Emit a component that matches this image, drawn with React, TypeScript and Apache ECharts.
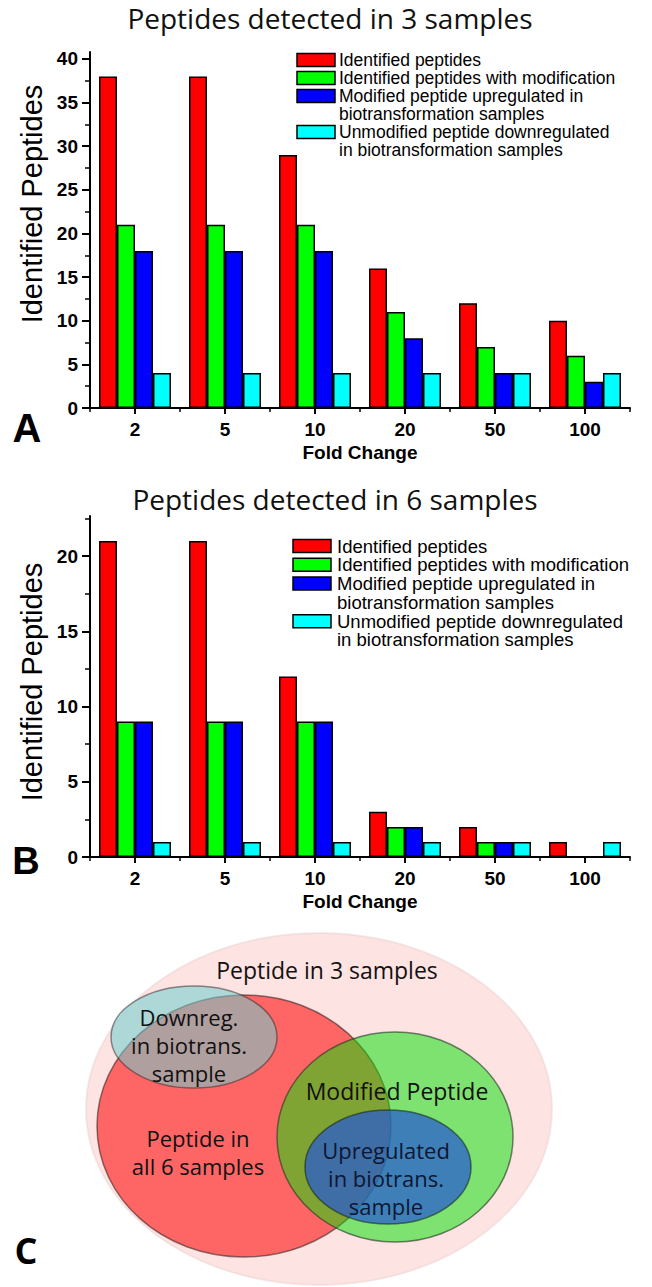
import React, { useEffect, useRef } from "react";
import * as echarts from "echarts";

// ---------- data ----------
const foldChanges = ["2", "5", "10", "20", "50", "100"];
const seriesNames = [
  "Identified peptides",
  "Identified peptides with modification",
  "Modified peptide upregulated in biotransformation samples",
  "Unmodified peptide downregulated in biotransformation samples",
];
const legendLines = [
  ["Identified peptides"],
  ["Identified peptides with modification"],
  ["Modified peptide upregulated in", "biotransformation samples"],
  ["Unmodified peptide downregulated", "in biotransformation samples"],
];
// Panel A: peptides detected in 3 samples
const identifiedA = [38, 38, 29, 16, 12, 10];
const modifiedA = [21, 21, 21, 11, 7, 6];
const upregulatedA = [18, 18, 18, 8, 4, 3];
const downregulatedA = [4, 4, 4, 4, 4, 4];
// Panel B: peptides detected in 6 samples
const identifiedB = [21, 21, 12, 3, 2, 1];
const modifiedB = [9, 9, 9, 2, 1, 0];
const upregulatedB = [9, 9, 9, 2, 1, 0];
const downregulatedB = [1, 1, 1, 1, 1, 1];
// tick labels
const yTicksA = [0, 5, 10, 15, 20, 25, 30, 35, 40];
const yMinorA = [2.5, 7.5, 12.5, 17.5, 22.5, 27.5, 32.5, 37.5];
const yTicksB = [0, 5, 10, 15, 20];
const yMinorB = [2.5, 7.5, 12.5, 17.5, 22.5];
const boundaryTicks = [0, 1, 2, 3, 4, 5, 6];

const barColors = ["#ff0000", "#00ff00", "#0000ff", "#00ffff"];

export default function App() {
  const ref = useRef<HTMLDivElement>(null);

  useEffect(() => {
    document.body.style.margin = "0";
    document.body.style.overflow = "hidden";
    const chart = echarts.init(ref.current as HTMLDivElement, null, { renderer: "svg" });

    const tickLabelStyle = {
      fontFamily: "Liberation Sans",
      fontWeight: "bold",
      fontSize: 19,
      color: "#000",
    };

    const buildLegend = (swX: number, txX: number, y0: number, step: number, fs: number) => {
      const els: any[] = [];
      let row = 0;
      legendLines.forEach((lines, i) => {
        const cy = y0 + row * step;
        els.push({
          type: "rect",
          z: 20,
          shape: { x: swX, y: cy - 6.5, width: 38, height: 13 },
          style: { fill: barColors[i], stroke: "#000", lineWidth: 1.5 },
        });
        els.push({
          type: "text",
          z: 20,
          x: txX,
          y: cy - step / 2,
          style: {
            text: lines.join("\n"),
            font: `${fs}px "Liberation Sans"`,
            lineHeight: step,
            fill: "#000",
            textAlign: "left",
            textVerticalAlign: "top",
          },
        });
        row += lines.length;
      });
      return els;
    };

    const txt = (
      text: string,
      x: number,
      y: number,
      font: string,
      fill = "#111",
      rotation = 0,
      lineHeight?: number
    ) => ({
      type: "text",
      z: 30,
      x,
      y,
      rotation,
      style: {
        text,
        font,
        fill,
        textAlign: "center",
        textVerticalAlign: "middle",
        ...(lineHeight ? { lineHeight } : {}),
      },
    });

    const vennFont = '23px "Open Sans"';
    const vennFontS = '22px "Open Sans"';

    const graphic: any[] = [
      // titles
      txt("Peptides detected in 3 samples", 330, 18, '28px "Open Sans"'),
      txt("Peptides detected in 6 samples", 335, 499, '28px "Open Sans"'),
      // y-axis names
      txt("Identified Peptides", 32, 204, '29px "Liberation Sans"', "#000", Math.PI / 2),
      txt("Identified Peptides", 32, 682, '29px "Liberation Sans"', "#000", Math.PI / 2),
      // panel letters
      txt("A", 27, 428, 'bold 40px "Liberation Sans"', "#000"),
      txt("B", 26, 861, 'bold 38px "Liberation Sans"', "#000"),
      txt("C", 26, 1250, 'bold 36px "Open Sans"', "#000"),
      // legends
      ...buildLegend(297, 339, 60, 18, 17.5),
      ...buildLegend(293, 337, 546, 18.8, 18.5),
      // Venn diagram
      {
        type: "ellipse",
        z: 1,
        shape: { cx: 319, cy: 1109, rx: 233, ry: 176 },
        style: { fill: "#fde3e2", stroke: "rgba(225,200,200,0.35)", lineWidth: 2 },
      },
      {
        type: "ellipse",
        z: 2,
        shape: { cx: 244, cy: 1126, rx: 147, ry: 131 },
        style: { fill: "rgba(255,0,0,0.55)", stroke: "rgba(60,40,40,0.6)", lineWidth: 1.5 },
      },
      {
        type: "ellipse",
        z: 3,
        shape: { cx: 194, cy: 1037, rx: 83, ry: 51 },
        style: { fill: "rgba(110,205,205,0.55)", stroke: "rgba(60,50,50,0.55)", lineWidth: 1.5 },
      },
      {
        type: "ellipse",
        z: 4,
        shape: { cx: 395, cy: 1137, rx: 118, ry: 105 },
        style: { fill: "rgba(0,225,0,0.5)", stroke: "rgba(40,50,40,0.6)", lineWidth: 1.5 },
      },
      {
        type: "ellipse",
        z: 5,
        shape: { cx: 388, cy: 1167, rx: 83, ry: 57 },
        style: { fill: "rgba(35,85,215,0.7)", stroke: "rgba(20,40,30,0.6)", lineWidth: 1.5 },
      },
      txt("Peptide in 3 samples", 327, 970, vennFont),
      txt("Downreg.\nin biotrans.\nsample", 189, 1045, vennFontS, "#111", 0, 28),
      txt("Modified Peptide", 397, 1091, vennFont),
      txt("Peptide in\nall 6 samples", 198, 1152, vennFontS, "#111", 0, 28),
      txt("Upregulated\nin biotrans.\nsample", 386, 1178, vennFontS, "#0d1733", 0, 28),
    ];

    const catAxis = (gridIndex: number) => ({
      type: "category",
      gridIndex,
      data: foldChanges,
      position: "bottom",
      boundaryGap: true,
      axisLine: { show: true, lineStyle: { color: "#000", width: 2 } },
      axisTick: { show: true, alignWithLabel: true, length: 6, lineStyle: { color: "#000", width: 2 } },
      axisLabel: { ...tickLabelStyle, margin: 12 },
      splitLine: { show: false },
      name: "Fold Change",
      nameLocation: "middle",
      nameGap: 35,
      nameTextStyle: { fontFamily: "Liberation Sans", fontWeight: "bold", fontSize: 19, color: "#000" },
    });

    const boundaryAxis = (gridIndex: number) => ({
      type: "value",
      gridIndex,
      position: "bottom",
      min: 0,
      max: 6,
      interval: 1,
      axisLine: { show: false },
      axisLabel: { show: false },
      splitLine: { show: false },
      axisTick: {
        show: true,
        length: 4,
        customValues: boundaryTicks,
        lineStyle: { color: "#000", width: 1.5 },
      },
    });

    const majorY = (gridIndex: number, max: number, ticks: number[]) => ({
      type: "value",
      gridIndex,
      position: "left",
      min: 0,
      max,
      interval: 5,
      axisLine: { show: true, onZero: false, lineStyle: { color: "#000", width: 2 } },
      axisTick: { show: true, length: 8, customValues: ticks, lineStyle: { color: "#000", width: 2 } },
      axisLabel: {
        ...tickLabelStyle,
        margin: 12,
        customValues: ticks,
        formatter: (v: number) => (v % 5 === 0 ? String(v) : ""),
      },
      splitLine: { show: false },
    });

    const minorY = (gridIndex: number, max: number, ticks: number[]) => ({
      type: "value",
      gridIndex,
      position: "left",
      min: 0,
      max,
      axisLine: { show: false },
      axisLabel: { show: false },
      splitLine: { show: false },
      axisTick: { show: true, length: 5, customValues: ticks, lineStyle: { color: "#000", width: 1.5 } },
    });

    const barSeries = (name: string, data: number[], color: string, xi: number, yi: number) => ({
      type: "bar",
      name,
      data,
      xAxisIndex: xi,
      yAxisIndex: yi,
      barWidth: 18,
      barGap: "0%",
      itemStyle: { color, borderColor: "#000", borderWidth: 1.5 },
      emphasis: { disabled: true },
    });

    const dataA = [identifiedA, modifiedA, upregulatedA, downregulatedA];
    const dataB = [identifiedB, modifiedB, upregulatedB, downregulatedB];

    chart.setOption({
      animation: false,
      backgroundColor: "#ffffff",
      grid: [
        { left: 90, top: 52, width: 540, height: 356 },
        { left: 90, top: 516, width: 540, height: 341 },
      ],
      xAxis: [catAxis(0), boundaryAxis(0), catAxis(1), boundaryAxis(1)],
      yAxis: [
        majorY(0, 40.8, yTicksA),
        minorY(0, 40.8, yMinorA),
        majorY(1, 22.66, yTicksB),
        minorY(1, 22.66, yMinorB),
      ],
      series: [
        ...dataA.map((d, i) => barSeries(seriesNames[i], d, barColors[i], 0, 0)),
        ...dataB.map((d, i) => barSeries(seriesNames[i], d, barColors[i], 2, 2)),
      ],
      graphic,
    });

    return () => chart.dispose();
  }, []);

  return <div ref={ref} style={{ width: 652, height: 1287 }} />;
}
